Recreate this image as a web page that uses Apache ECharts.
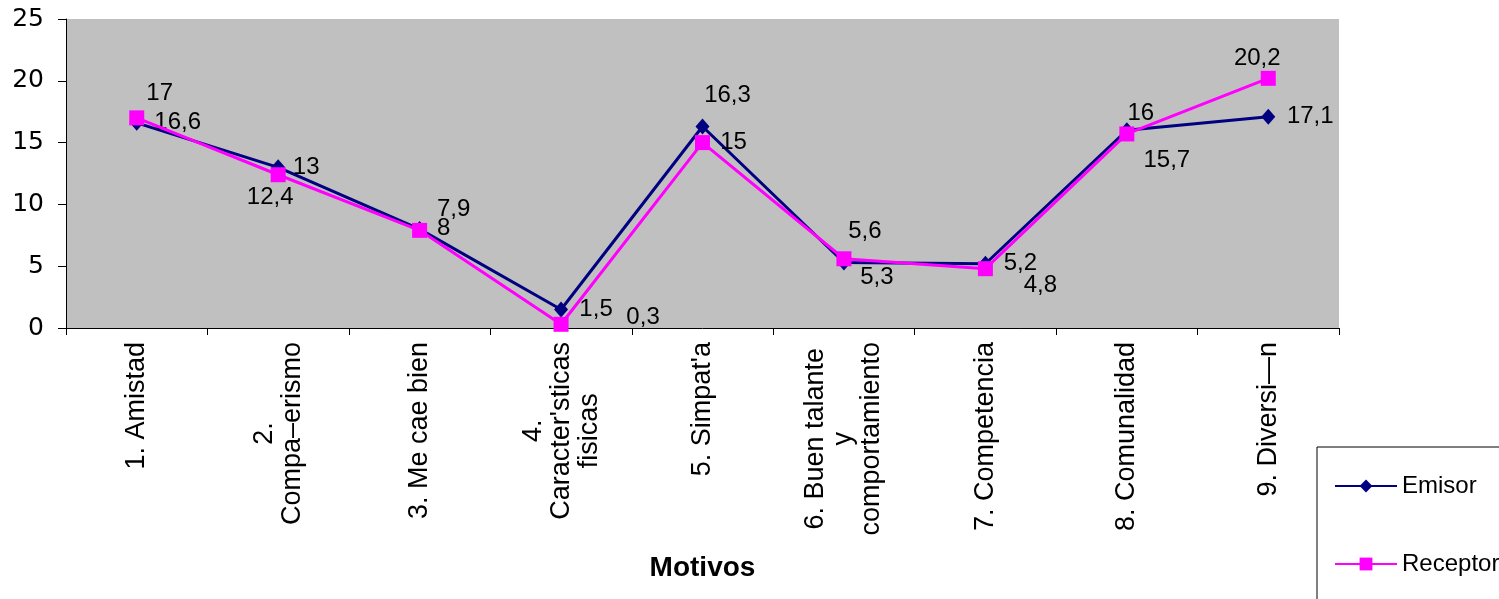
<!DOCTYPE html>
<html>
<head>
<meta charset="utf-8">
<script src="https://cdn.jsdelivr.net/npm/echarts@6/dist/echarts.min.js"></script>
<style>
html,body{margin:0;padding:0;background:#fff;}
#chart{width:1499px;height:599px;}
</style>
</head>
<body>
<div id="chart"></div>
<script>
const categories = [
  "1. Amistad",
  "2.\nCompa–erismo",
  "3. Me cae bien",
  "4.\nCaracter'sticas\nfisicas",
  "5. Simpat'a",
  "6. Buen talante\ny\ncomportamiento",
  "7. Competencia",
  "8. Comunalidad",
  "9. Diversi—n"
];
const emisor = [16.6, 13, 8, 1.5, 16.3, 5.3, 5.2, 16, 17.1];
const receptor = [17, 12.4, 7.9, 0.3, 15, 5.6, 4.8, 15.7, 20.2];
const yTicks = [0, 5, 10, 15, 20, 25];

// label placement (layout only)
const emisorOffsets = [[41,0],[28,0],[24,-1],[35,0],[25,-31],[33,15],[35,0],[14,-17],[42,0]];
const receptorOffsets = [[23,-25],[-8,23],[34,-21],[82,-7],[31,0],[21,-27],[55,17],[40,26],[-11,-20]];

const fmt = v => String(v).replace('.', ',');

function buildData(vals, offs) {
  return vals.map((v, i) => ({
    value: v,
    label: { offset: offs[i] }
  }));
}

const FONT = 'Liberation Sans, Arial, sans-serif';

const labelStyle = {
  show: true,
  position: 'inside',
  align: 'center',
  verticalAlign: 'middle',
  color: '#000',
  fontFamily: FONT,
  fontSize: 24,
  textBorderWidth: 0,
  formatter: p => fmt(p.value)
};

const chart = echarts.init(document.getElementById('chart'), null, {renderer: 'canvas'});
chart.setOption({
  animation: false,
  backgroundColor: '#fff',
  grid: {
    left: 66, right: 160, top: 19, height: 309,
    show: true, backgroundColor: '#C0C0C0', borderWidth: 0,
    containLabel: false
  },
  legend: {
    orient: 'vertical',
    left: 1317, top: 447,
    height: 300,
    borderColor: '#000', borderWidth: 1,
    padding: [27, 80, 80, 17],
    itemWidth: 62, itemHeight: 16, itemGap: 54,
    textStyle: { color: '#000', fontSize: 24, fontFamily: FONT, lineHeight: 16 },
    data: ['Emisor', 'Receptor']
  },
  xAxis: {
    type: 'category',
    data: categories,
    boundaryGap: true,
    name: 'Motivos',
    nameLocation: 'middle',
    nameGap: 226,
    nameTextStyle: { color: '#000', fontSize: 28, fontWeight: 'bold', fontFamily: FONT, verticalAlign: 'top' },
    axisLine: { lineStyle: { color: '#000', width: 1 } },
    axisTick: { show: true, length: 7, lineStyle: { color: '#000' } },
    axisLabel: {
      rotate: 90,
      interval: 0,
      margin: 14,
      color: '#000',
      fontSize: 27,
      fontFamily: FONT,
      lineHeight: 28,
      formatter: v => v.split('\n').map(l => '{c|' + l + '}').join('\n'),
      rich: { c: { align: 'center', fontSize: 27, lineHeight: 28, color: '#000', fontFamily: FONT } }
    },
    splitLine: { show: false }
  },
  yAxis: {
    type: 'value',
    min: 0, max: 25, interval: 5,
    axisLine: { show: true, lineStyle: { color: '#000', width: 1 } },
    axisTick: { show: true, length: 8, lineStyle: { color: '#000' } },
    axisLabel: {
      margin: 22,
      color: '#000',
      fontSize: 25,
      fontFamily: 'DejaVu Sans, Verdana, sans-serif',
      formatter: v => yTicks.includes(v) ? String(v) : ''
    },
    splitLine: { show: false }
  },
  series: [
    {
      name: 'Emisor',
      type: 'line',
      data: buildData(emisor, emisorOffsets),
      symbol: 'diamond',
      symbolSize: [14, 16],
      lineStyle: { color: '#000080', width: 3 },
      itemStyle: { color: '#000080' },
      label: labelStyle,
      z: 2
    },
    {
      name: 'Receptor',
      type: 'line',
      data: buildData(receptor, receptorOffsets),
      symbol: 'rect',
      symbolSize: 15,
      lineStyle: { color: '#FF00FF', width: 3 },
      itemStyle: { color: '#FF00FF' },
      label: labelStyle,
      z: 3
    }
  ]
});
</script>
</body>
</html>
